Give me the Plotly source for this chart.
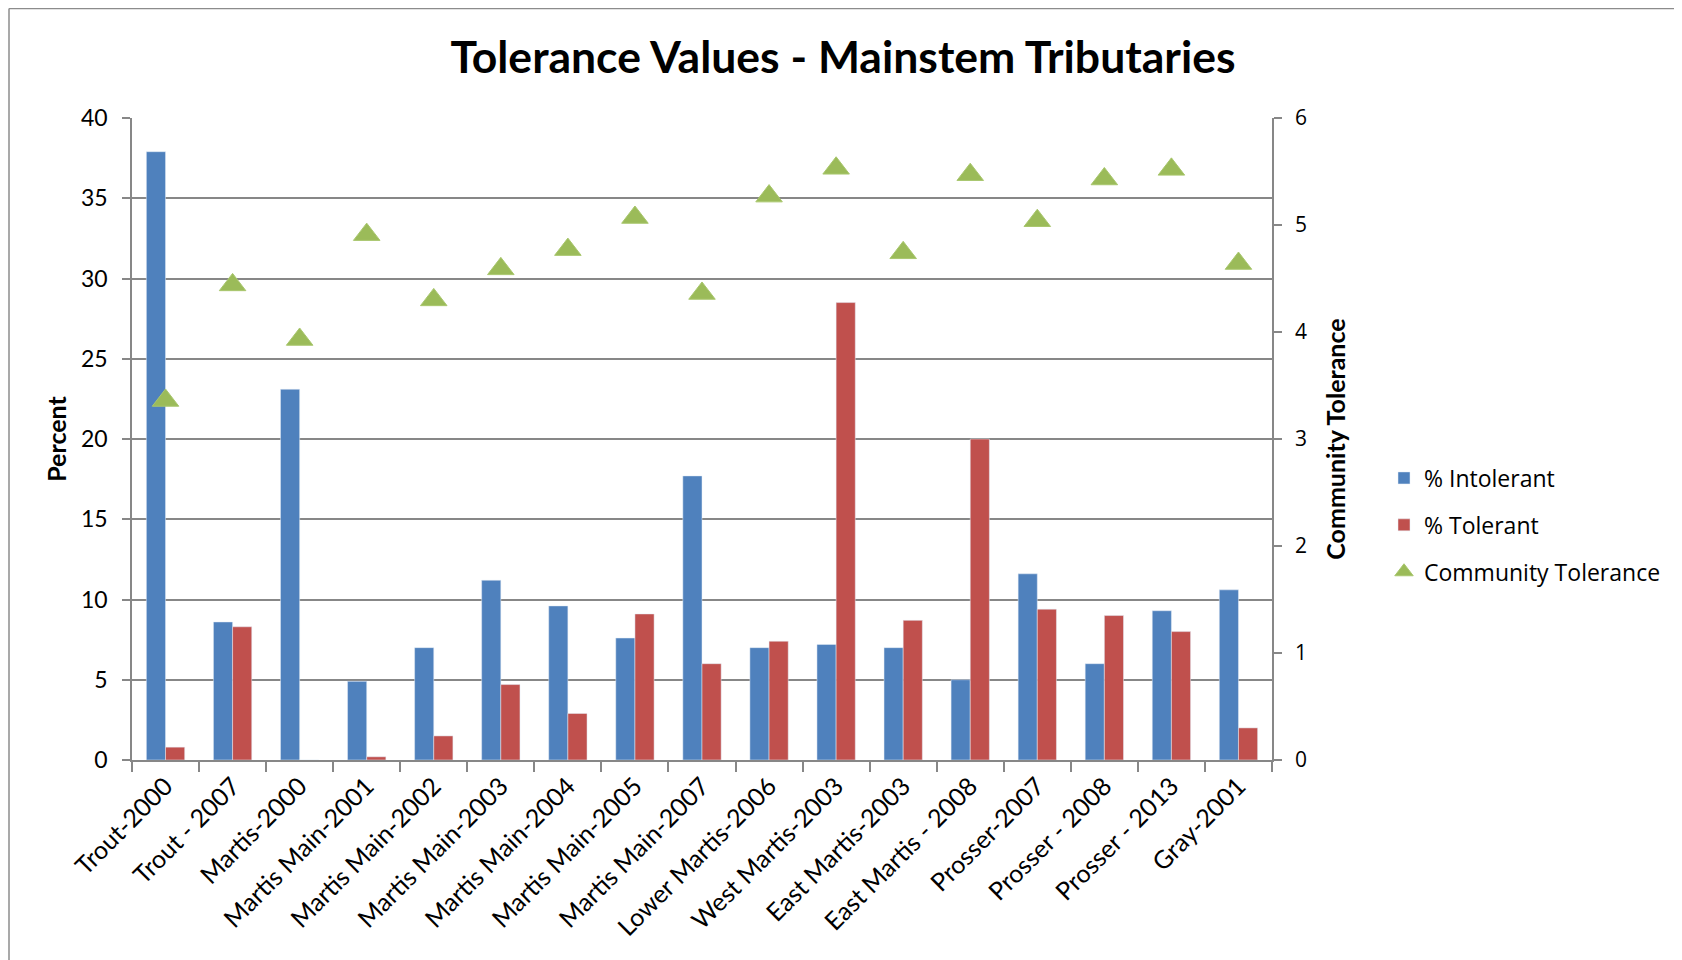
import plotly.graph_objects as go

categories = ["Trout-2000", "Trout - 2007", "Martis-2000", "Martis Main-2001", "Martis Main-2002",
              "Martis Main-2003", "Martis Main-2004", "Martis Main-2005", "Martis Main-2007",
              "Lower Martis-2006", "West Martis-2003", "East Martis-2003", "East Martis - 2008",
              "Prosser-2007", "Prosser - 2008", "Prosser - 2013", "Gray-2001"]
pct_intolerant = [37.9, 8.6, 23.1, 4.9, 7.0, 11.2, 9.6, 7.6, 17.7, 7.0, 7.2, 7.0, 5.0, 11.6, 6.0, 9.3, 10.6]
pct_tolerant = [0.8, 8.3, 0.0, 0.2, 1.5, 4.7, 2.9, 9.1, 6.0, 7.4, 28.5, 8.7, 20.0, 9.4, 9.0, 8.0, 2.0]
community_tolerance = [3.36, 4.44, 3.93, 4.91, 4.30, 4.59, 4.77, 5.07, 4.36, 5.27, 5.53, 4.74, 5.47, 5.04, 5.43, 5.52, 4.64]

BLUE = "#4F81BD"
RED = "#C0504D"
GREEN = "#9BBB59"
GRID = "#878787"
FONT = "Lato, Calibri, sans-serif"
FONT2 = "Open Sans, sans-serif"

fig = go.Figure()
fig.add_trace(go.Bar(x=categories, y=pct_intolerant, name="% Intolerant", marker_color=BLUE,
                     legendgroup="a"))
fig.add_trace(go.Bar(x=categories, y=pct_tolerant, name="% Tolerant", marker_color=RED,
                     legendgroup="b"))
fig.add_trace(go.Scatter(x=categories, y=community_tolerance, name="Community Tolerance", mode="markers",
                         yaxis="y2", legendgroup="c",
                         marker=dict(symbol="triangle-up", size=23, color=GREEN,
                                     line=dict(color="#A9C76E", width=1))))

# page body has an 8px margin; compensate so the picture lands where the reference has it
OFF = 8
W, H = 1682 - OFF, 960 - OFF
L, R, T, B = 132 - OFF, 1272 - OFF, 118 - OFF, 760 - OFF


def px_x(x):
    return (x - L) / (R - L)


def px_y(y):
    return (B - y) / (B - T)


fig.update_layout(
    width=W, height=H,
    margin=dict(l=L, r=W - R, t=T, b=H - B),
    paper_bgcolor="white", plot_bgcolor="white",
    barmode="group", bargap=0.4286, bargroupgap=0,
    title=dict(text="<b>Tolerance Values - Mainstem Tributaries</b>",
               font=dict(family=FONT, size=44.5, color="black"),
               x=(843 - OFF) / W, xanchor="center", y=1 - (57 - OFF) / H, yanchor="middle"),
    font=dict(family=FONT, color="black"),
    xaxis=dict(
        range=[-0.5, len(categories) - 0.5],
        tickangle=-45, tickfont=dict(family=FONT, size=25, color="black"),
        showline=True, linecolor=GRID, linewidth=1.5,
        ticks="outside", ticklen=10, tickcolor=GRID, tickwidth=1.5,
        tickson="boundaries", showgrid=False,
    ),
    yaxis=dict(
        range=[0, 40], dtick=5, tickfont=dict(family=FONT, size=23, color="black"),
        showline=True, linecolor=GRID, linewidth=1.5,
        ticks="outside", ticklen=8, tickcolor=GRID, tickwidth=1.5,
        showgrid=True, gridcolor=GRID, gridwidth=1.5,
        zeroline=False, ticklabelstandoff=10,
        title=dict(text="<b>Percent</b>", font=dict(family=FONT, size=25, color="black"), standoff=7),
    ),
    yaxis2=dict(
        range=[0, 6], dtick=1, overlaying="y", side="right",
        tickfont=dict(family=FONT2, size=21, color="black"),
        showline=True, linecolor=GRID, linewidth=1.5,
        ticks="outside", ticklen=8, tickcolor=GRID, tickwidth=1.5,
        showgrid=False, zeroline=False, ticklabelstandoff=9,
        title=dict(text="<b>Community Tolerance</b>", font=dict(family=FONT, size=25, color="black"), standoff=22),
    ),
    legend=dict(
        x=px_x(1376), xanchor="left", y=px_y(517), yanchor="middle",
        font=dict(family=FONT2, size=23, color="black"),
        tracegroupgap=14, bgcolor="rgba(0,0,0,0)",
    ),
    shapes=[
        dict(type="line", xref="paper", yref="paper",
             x0=px_x(1), x1=px_x(1), y0=px_y(H + 20), y1=px_y(0.5),
             line=dict(color="#8C8C8C", width=1.5)),
        dict(type="line", xref="paper", yref="paper",
             x0=px_x(1), x1=px_x(W + 20), y0=px_y(0.5), y1=px_y(0.5),
             line=dict(color="#8C8C8C", width=1.5)),
    ],
)

fig.write_html("out.html")
